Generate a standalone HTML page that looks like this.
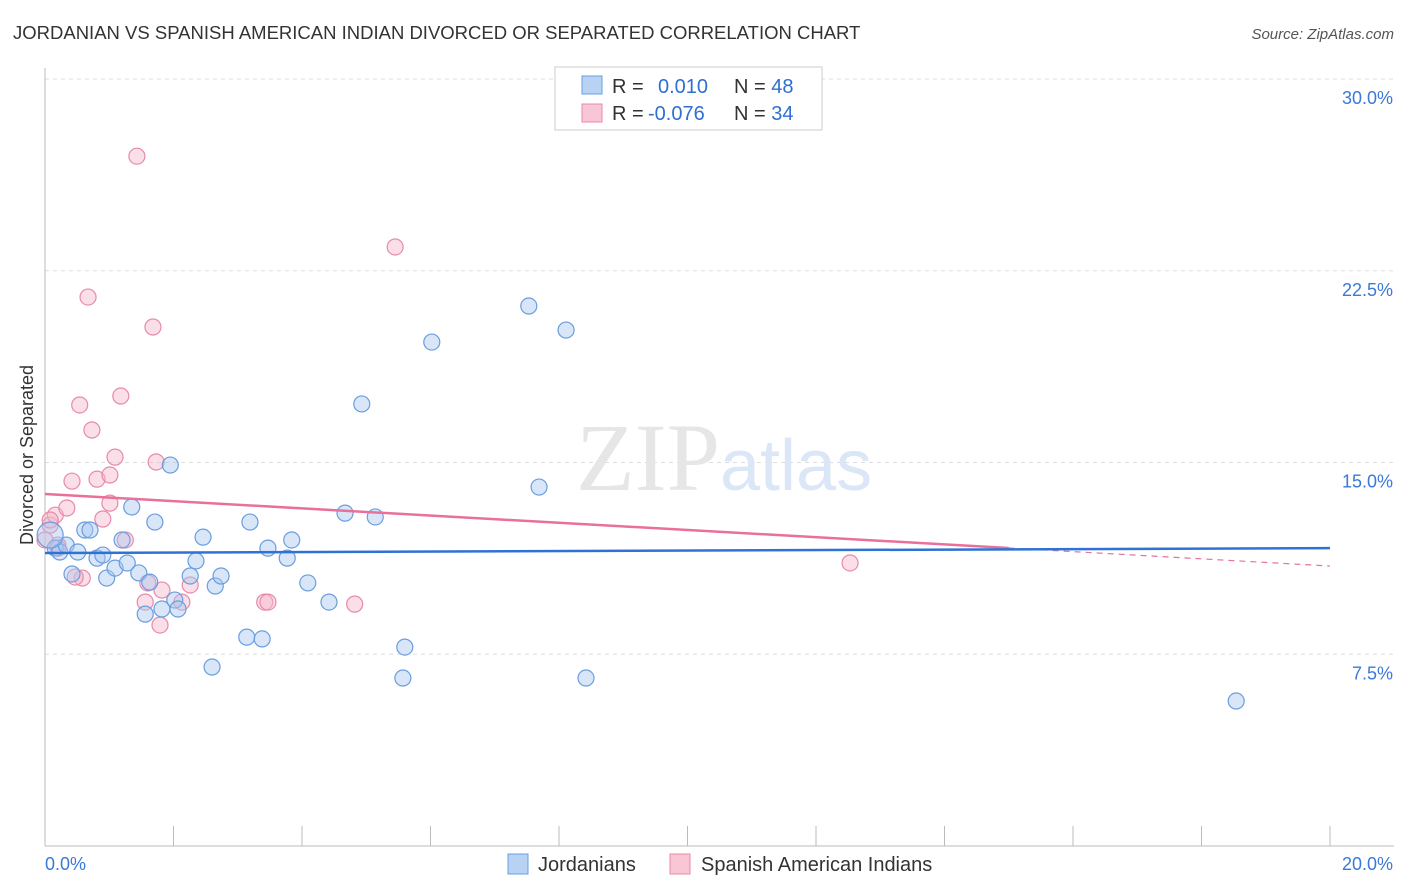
<!DOCTYPE html>
<html><head><meta charset="utf-8"><style>
body{margin:0;background:#fff;font-family:"Liberation Sans",sans-serif;}
svg{display:block}
</style></head><body>
<svg width="1406" height="892" viewBox="0 0 1406 892">
<text x="13" y="39" font-size="18.5" fill="#333">JORDANIAN VS SPANISH AMERICAN INDIAN DIVORCED OR SEPARATED CORRELATION CHART</text>
<text x="1394" y="39" font-size="15" fill="#555" font-style="italic" text-anchor="end">Source: ZipAtlas.com</text>
<g id="grid"></g>
<g id="axes"></g>
<text x="720" y="490" font-size="96" fill="#e6e6e6" text-anchor="end" font-family="Liberation Serif,serif">ZIP</text>
<text x="720" y="490" font-size="72" fill="#dbe7f6">atlas</text>
<g id="pts"></g>
<g id="trend"></g>
<text x="33" y="455" font-size="18" fill="#333" text-anchor="middle" transform="rotate(-90 33 455)">Divorced or Separated</text>
<g>
<rect x="555" y="67" width="267" height="63" fill="#fff" stroke="#ccc"/>
<rect x="582" y="76" width="20" height="18" fill="#b8d2f4" stroke="#6a9de0"/>
<rect x="582" y="104" width="20" height="18" fill="#f9c6d6" stroke="#e88aa8"/>
<text x="612" y="93" font-size="20" fill="#333">R = <tspan fill="#2f6fd0" x="658">0.010</tspan><tspan x="734" fill="#333">N = </tspan><tspan fill="#2f6fd0">48</tspan></text>
<text x="612" y="120" font-size="20" fill="#333">R = <tspan fill="#2f6fd0" x="648">-0.076</tspan><tspan x="734" fill="#333">N = </tspan><tspan fill="#2f6fd0">34</tspan></text>
</g>
<g>
<rect x="508" y="854" width="20" height="20" fill="#b8d2f4" stroke="#6a9de0"/>
<text x="538" y="871" font-size="20" fill="#333">Jordanians</text>
<rect x="670" y="854" width="20" height="20" fill="#f9c6d6" stroke="#e88aa8"/>
<text x="701" y="871" font-size="20" fill="#333">Spanish American Indians</text>
</g>
</svg>
<script>
const yTicks=[7.5,15,22.5,30];
const yTickLabels=["7.5%","15.0%","22.5%","30.0%"];
const xTicks=[0,2,4,6,8,10,12,14,16,18,20];
const blueX=[0.16,0.23,0.33,0.51,0.42,0.62,0.70,0.81,0.90,0.96,1.09,1.20,1.28,1.35,1.46,1.56,1.63,1.71,1.82,1.95,2.02,2.07,2.26,2.35,2.46,2.60,2.65,2.74,3.14,3.19,3.38,3.47,3.77,3.84,4.09,4.42,4.67,4.93,5.14,5.57,5.60,6.02,7.53,7.69,8.11,8.42,18.54,0.08];
const blueY=[11.65,11.50,11.77,11.50,10.64,12.36,12.36,11.26,11.38,10.48,10.87,11.97,11.07,13.26,10.68,9.07,10.32,12.67,9.27,14.90,9.62,9.27,10.56,11.15,12.08,7.00,10.17,10.56,8.17,12.67,8.10,11.65,11.26,11.97,10.29,9.54,13.02,17.29,12.87,6.57,7.78,19.71,21.12,14.04,20.18,6.57,5.67,12.16];
const pinkX=[0.08,0.16,0.20,0.34,0.42,0.54,0.58,0.67,0.73,0.81,0.90,1.01,1.01,1.09,1.18,1.25,1.43,1.56,1.60,1.68,1.73,1.79,1.82,2.13,2.26,3.42,3.47,4.82,5.45,12.53,0.47,0.08,0.20,0.0];
const pinkY=[12.55,12.94,11.77,13.22,14.27,17.25,10.48,21.47,16.27,14.35,12.79,14.51,13.41,15.21,17.60,11.97,26.98,9.54,10.29,20.30,15.02,8.64,10.01,9.54,10.21,9.54,9.54,9.46,23.43,11.07,10.52,12.75,11.65,11.97];
const blueTrend=[11.46,11.65];
const pinkTrend=[13.77,10.95];
const pinkSolidEnd=15.0;
const NS="http://www.w3.org/2000/svg";
const X=v=>45+v/20*1285, Y=v=>846-v/30*767;
function mk(t,a,p){const e=document.createElementNS(NS,t);for(const k in a)e.setAttribute(k,a[k]);p.appendChild(e);return e;}
const grid=document.getElementById('grid'),axes=document.getElementById('axes'),pts=document.getElementById('pts'),tr=document.getElementById('trend');
yTicks.forEach((t,i)=>{
 const l=mk('line',{x1:45,x2:1394,y1:Y(t),y2:Y(t),stroke:'#ddd','stroke-dasharray':'4,4'},grid);
 
 
 const tx=mk('text',{x:1393,y:Y(t)+25,'font-size':18,fill:'#3b78d8','text-anchor':'end'},axes);
 tx.textContent=yTickLabels[i];
 
 
});
let a=mk('line',{x1:45,x2:45,y1:68,y2:846,stroke:'#bbb'},axes);


a=mk('line',{x1:45,x2:1394,y1:846,y2:846,stroke:'#bbb'},axes);


xTicks.forEach(t=>{
 const l=mk('line',{x1:X(t),x2:X(t),y1:826,y2:846,stroke:'#bbb'},axes);
 
 
});
let t0=mk('text',{x:45,y:870,'font-size':18,fill:'#3b78d8'},axes);t0.textContent='0.0%';


let t1=mk('text',{x:1393,y:870,'font-size':18,fill:'#3b78d8','text-anchor':'end'},axes);t1.textContent='20.0%';


function dots(xs,ys,fill,stroke,name){xs.forEach((x,i)=>{
 const c=mk('circle',{cx:X(x),cy:Y(ys[i]),r:i==xs.length-1&&name=='jordanian-point'?13:8,fill:fill,'fill-opacity':0.45,stroke:stroke,'stroke-width':1.2},pts);
 
 
});}
dots(pinkX,pinkY,'#f5b8cc','#e88aa8','spanish-american-indian-point');
dots(blueX,blueY,'#a8c8f0','#6a9de0','jordanian-point');
const pAt=x=>pinkTrend[0]+(pinkTrend[1]-pinkTrend[0])*x/20;
let l=mk('line',{x1:X(0),y1:Y(pinkTrend[0]),x2:X(pinkSolidEnd),y2:Y(pAt(pinkSolidEnd)),stroke:'#e8709a','stroke-width':2.5},tr);


l=mk('line',{x1:X(pinkSolidEnd),y1:Y(pAt(pinkSolidEnd)),x2:X(20),y2:Y(pinkTrend[1]),stroke:'#e8709a','stroke-width':1.2,'stroke-dasharray':'6,5'},tr);


l=mk('line',{x1:X(0),y1:Y(blueTrend[0]),x2:X(20),y2:Y(blueTrend[1]),stroke:'#2f72d6','stroke-width':2.5},tr);


</script>
</body></html>
